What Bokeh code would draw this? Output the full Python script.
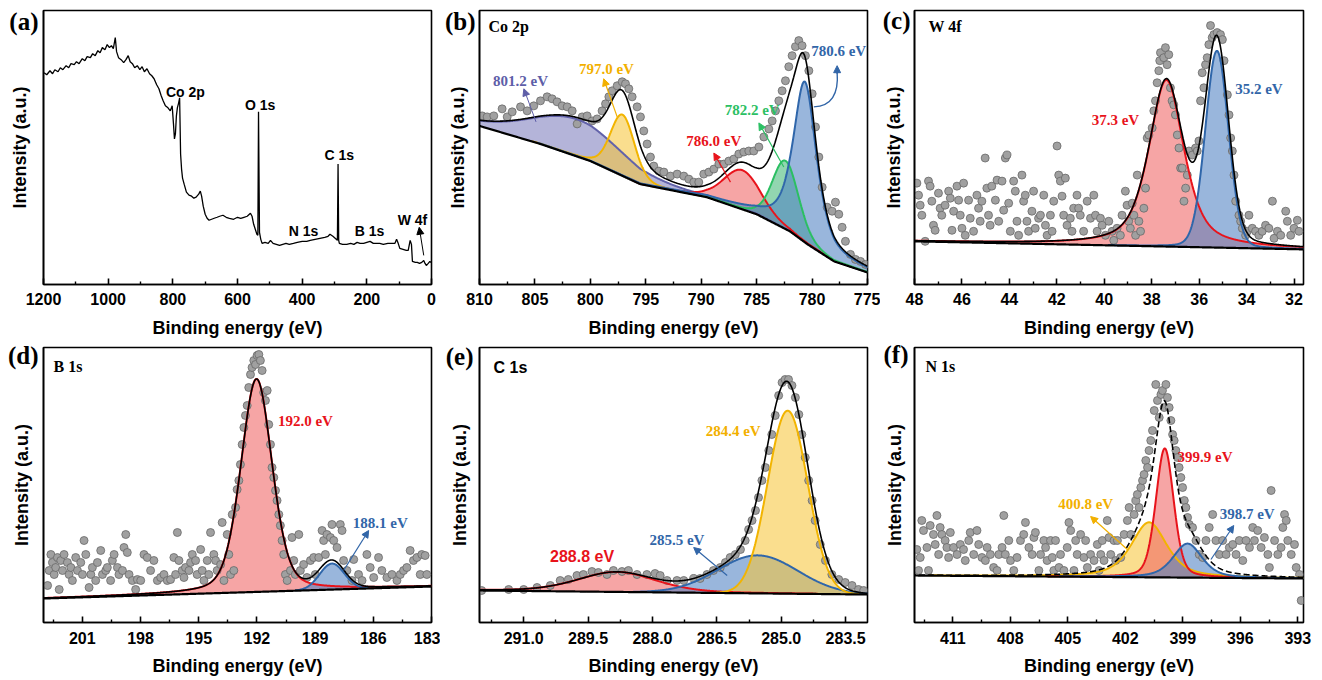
import numpy as np
from bokeh.plotting import figure
from bokeh.layouts import gridplot
from bokeh.models import (Range1d, FixedTicker, Label, Arrow, NormalHead, PrintfTickFormatter,
                          CustomJSTickFormatter)
from bokeh.embed import file_html
from bokeh.resources import INLINE

SANS = "Liberation Sans"
SERIF = "Liberation Serif"

# ------------------------------------------------------------------ data
# (a) survey spectrum: binding energy (eV) and intensity (a.u.)
a_be = [1198,1190,1180,1172,1165,1155,1148,1140,1130,1122,1115,1105,1098,1090,1080,1072,1065,1055,1048,1040,
        1032,1025,1018,1010,1003,996,990,984,978,974,968,960,952,945,938,932,925,918,910,902,
        895,888,880,872,865,858,850,843,836,830,823,815,808,802,798,795,792,789,786,782,
        779,776,773,770,765,758,750,742,735,728,720,715,711,706,700,694,688,680,672,663,
        655,645,635,625,612,600,590,580,570,560,555,550,545,540,537,535,532,528,524,515,
        505,498,490,480,470,460,450,440,427,415,400,386,375,360,345,330,320,314,305,298,
        291,289,287,285,275,262,250,240,230,221,210,200,190,180,170,160,149,135,122,113,
        108,103,98,88,78,72,66,62,59,50,44,37,30,24,20,16,10,5,1]
a_int = [211,209,213,210,214,212,216,214,218,216,220,219,222,220,225,223,227,226,230,228,
         233,231,236,234,239,236,238,235,246,232,226,224,221,224,228,222,220,216,218,214,
         217,212,215,210,208,205,199,195,188,183,178,176,173,178,160,145,150,168,176,181,
         186,130,115,106,100,92,89,88,86,87,90,93,88,78,70,66,64,65,66,67,
         68,69,67,66,65,67,66,67,68,71,68,60,55,50,49,172,52,45,41,42,
         41,44,41,40,39,40,41,40,41,42,43,43,44,45,46,47,48,50,48,46,
         44,120,44,41,40,40,41,40,42,41,41,42,43,41,41,41,40,41,41,41,
         45,41,36,35,34,34,44,40,23,22,22,21,22,24,21,19,21,23,22]
a_ticks = [1200, 1000, 800, 600, 400, 200, 0]
a_minor = [1100, 900, 700, 500, 300, 100]
a_names = ["Co 2p", "O 1s", "C 1s", "N 1s", "B 1s", "W 4f"]

# (b) Co 2p
b_points = [(809.76,168),(809.31,167),(808.71,168),(807.96,175),(807.50,167),(807.05,172),(806.30,177),(805.70,173),
            (805.10,178),(804.50,183),(803.90,187),(803.45,185),(803.00,182),(802.54,178),(802.09,177),(801.64,173),
            (801.19,160),(800.74,167),(800.29,168),(799.84,163),(799.39,165),(798.94,173),(798.63,180),(798.33,187),
            (798.03,193),(797.58,198),(797.13,202),(796.83,200),(796.53,195),(796.23,187),(795.78,177),(795.48,167),
            (795.18,153),(794.88,140),(794.58,127),(794.28,118),(793.82,113),(793.37,112),(792.77,108),(792.17,110),
            (791.57,108),(791.12,105),(790.67,102),(790.22,102),(789.77,110),(789.31,112),(788.86,115),(788.41,120),
            (787.96,120),(787.51,123),(787.06,125),(786.61,130),(786.16,132),(785.71,133),(785.26,133),(784.80,137),
            (784.35,147),(783.90,155),(783.60,163),(783.30,173),(783.00,183),(782.70,193),(782.40,203),(782.10,217),
            (781.80,228),(781.50,237),(781.20,243),(780.90,238),(780.60,228),(780.29,213),(779.99,190),(779.69,157),
            (779.39,127),(779.09,97),(778.64,77),(778.19,73),(777.89,82),(777.59,70),(777.29,57),(776.99,43),
            (776.54,30),(776.09,25),(775.63,23),(775.18,20)]
b_bg_be = [810, 804.5, 800, 795.5, 789.5, 785, 782, 780.4, 778, 775]
b_bg_int = [158, 140, 123, 100, 87, 70, 53, 40, 23, 12]
# peaks: centre (eV), height above background, FWHM (eV), Lorentz fraction
b_centers = [801.2, 797.1, 786.3, 782.4, 780.65]
b_heights = [37, 61, 39, 68, 160]
b_fwhm = [10.0, 2.6, 4.0, 2.8, 2.5]
b_eta = [0.2, 0.2, 0.2, 0.2, 0.7]
b_labels = ["801.2 eV", "797.0 eV", "786.0 eV", "782.2 eV", "780.6 eV"]
b_ticks = [810, 805, 800, 795, 790, 785, 780, 775]
b_minor = [807.5, 802.5, 797.5, 792.5, 787.5, 782.5, 777.5]

# (c) W 4f
c_points = [(47.90,101),(47.83,89),(47.76,79),(47.69,69),(47.55,43),(47.41,103),(47.34,98),(47.27,83),(47.20,59),
            (47.13,54),(46.99,91),(46.92,76),(46.85,69),(46.71,79),(46.56,93),(46.49,86),(46.42,54),(46.35,73),
            (46.21,98),(46.14,84),(46.07,69),(46.00,56),(45.93,101),(45.86,49),(45.72,84),(45.65,66),(45.51,53),
            (45.37,89),(45.30,76),(45.23,63),(45.16,83),(45.02,126),(44.95,96),(44.88,69),(44.81,59),(44.74,98),
            (44.59,84),(44.52,104),(44.45,63),(44.31,103),(44.24,74),(44.17,126),(44.10,129),(44.03,81),(43.96,53),
            (43.82,103),(43.75,93),(43.68,63),(43.61,49),(43.47,109),(43.40,83),(43.33,89),(43.26,63),(43.19,53),
            (43.05,73),(42.98,93),(42.91,56),(42.77,66),(42.69,69),(42.55,89),(42.48,59),(42.41,49),(42.27,69),
            (42.20,53),(42.13,83),(41.99,138),(41.92,109),(41.85,103),(41.78,88),(41.71,69),(41.64,106),(41.57,59),
            (41.43,66),(41.36,53),(41.29,76),(41.15,89),(41.08,76),(41.01,69),(40.87,53),(40.72,83),(40.58,66),
            (40.44,89),(40.37,69),(40.30,53),(40.16,66),(40.09,59),(39.95,49),(39.81,63),(39.67,53),(39.60,44),
            (39.46,56),(39.32,49),(39.25,69),(39.11,93),(39.04,79),(38.97,63),(38.90,56),(38.82,81),(38.75,69),
            (38.68,49),(38.61,109),(38.54,63),(38.47,53),(38.33,76),(38.26,96),(38.19,146),(38.12,149),(37.98,156),
            (37.91,173),(37.84,183),(37.77,201),(37.70,213),(37.66,223),(37.63,231),(37.49,226),(37.42,236),
            (37.35,219),(37.28,229),(37.21,196),(37.14,183),(37.07,179),(37.00,169),(36.92,149),(36.85,136),
            (36.78,116),(36.71,116),(36.64,83),(36.57,96),(36.50,109),(36.43,133),(36.29,129),(36.15,136),
            (36.08,133),(36.01,143),(35.94,183),(35.87,211),(35.80,196),(35.73,219),(35.66,226),(35.59,239),
            (35.52,258),(35.45,246),(35.38,249),(35.24,251),(35.10,249),(35.02,244),(34.95,223),(34.81,189),
            (34.74,169),(34.67,146),(34.60,133),(34.53,109),(34.46,83),(34.32,69),(34.25,63),(34.18,56),(34.04,49),
            (33.97,53),(33.90,69),(33.76,56),(33.62,53),(33.48,49),(33.34,53),(33.20,59),(33.06,56),(32.91,83),
            (32.84,46),(32.70,53),(32.56,49),(32.35,73),(32.28,63),(32.14,49),(32.00,56),(31.86,64),(31.79,53)]
c_bg_be = [48.0, 31.6]
c_bg_int = [43, 35]
c_centers = [37.38, 35.25]
c_heights = [166, 196]
c_fwhm = [1.75, 1.15]
c_eta = [0.6, 0.1]
c_labels = ["37.3 eV", "35.2 eV"]
c_ticks = [48, 46, 44, 42, 40, 38, 36, 34, 32]
c_minor = [47, 45, 43, 41, 39, 37, 35, 33]

# (d) B 1s
d_points = [(202.79,37),(202.71,52),(202.62,68),(202.54,60),(202.45,48),(202.37,55),(202.28,65),(202.19,33),
            (202.11,62),(202.02,52),(201.94,68),(201.77,60),(201.68,48),(201.59,55),(201.51,42),(201.34,65),
            (201.25,52),(201.08,60),(200.99,48),(200.91,82),(200.82,68),(200.65,35),(200.56,48),(200.48,55),
            (200.31,42),(200.22,60),(200.05,72),(199.96,48),(199.79,52),(199.71,55),(199.54,42),(199.45,62),
            (199.36,68),(199.19,55),(199.11,48),(198.93,52),(198.85,75),(198.76,88),(198.68,70),(198.59,48),
            (198.42,42),(198.25,33),(198.16,43),(197.99,42),(197.82,68),(197.65,65),(197.48,52),(197.31,62),
            (197.13,42),(196.96,45),(196.79,48),(196.62,42),(196.45,43),(196.28,65),(196.19,48),(196.10,90),
            (196.02,62),(195.85,52),(195.76,45),(195.68,55),(195.50,52),(195.42,60),(195.33,68),(195.16,62),
            (195.08,48),(194.90,73),(194.82,52),(194.73,42),(194.56,62),(194.48,48),(194.39,90),(194.22,68),
            (194.13,62),(194.05,52),(193.87,58),(193.79,100),(193.70,42),(193.53,88),(193.45,68),(193.36,48),
            (193.27,108),(193.19,52),(193.10,115),(193.02,133),(192.93,142),(192.85,158),(192.76,178),(192.67,195),
            (192.59,207),(192.50,217),(192.42,235),(192.33,248),(192.25,255),(192.16,262),(192.07,258),(191.99,267),
            (191.90,268),(191.82,262),(191.73,252),(191.65,230),(191.56,222),(191.47,232),(191.39,198),(191.30,178),
            (191.22,155),(191.13,145),(191.04,132),(190.96,122),(190.87,108),(190.79,97),(190.70,82),(190.62,68),
            (190.53,48),(190.44,42),(190.27,52),(190.19,85),(190.10,62),(190.02,48),(189.84,88),(189.76,52),
            (189.59,58),(189.42,45),(189.24,62),(189.07,65),(188.99,48),(188.81,65),(188.64,92),(188.56,82),
            (188.47,68),(188.39,88),(188.21,85),(188.13,98),(188.04,82),(187.87,75),(187.70,98),(187.61,92),
            (187.53,62),(187.36,52),(187.10,42),(187.01,63),(186.76,48),(186.58,42),(186.33,68),(186.16,55),
            (185.98,45),(185.73,65),(185.56,52),(185.30,45),(185.04,48),(184.78,42),(184.61,48),(184.44,52),
            (184.27,55),(184.10,72),(183.93,62),(183.75,65),(183.58,48),(183.50,68),(183.33,67),(183.24,48)]
d_bg_be = [203.0, 183.0]
d_bg_int = [24, 36]
d_centers = [192.02, 188.13]
d_heights = [213, 26]
d_fwhm = [1.9, 1.5]
d_eta = [0.3, 0.0]
d_labels = ["192.0 eV", "188.1 eV"]
d_ticks = [201, 198, 195, 192, 189, 186, 183]
d_minor = [202.5, 199.5, 196.5, 193.5, 190.5, 187.5, 184.5]

# (e) C 1s
e_points = [(291.98,32),(291.35,33),(291.00,33),(290.69,35),(290.38,37),(290.15,42),(289.96,43),(289.76,47),
            (289.61,48),(289.41,51),(289.26,50),(289.06,48),(288.91,52),(288.71,51),(288.56,52),(288.36,48),
            (288.13,48),(287.94,49),(287.82,47),(287.66,42),(287.43,42),(287.27,42),(287.04,44),(286.89,44),
            (286.73,48),(286.58,52),(286.42,55),(286.30,60),(286.19,65),(286.07,68),(285.95,73),(285.84,82),
            (285.76,93),(285.68,102),(285.60,112),(285.53,125),(285.45,142),(285.37,155),(285.29,172),(285.22,188),
            (285.14,207),(285.06,227),(284.98,240),(284.91,243),(284.83,243),(284.75,237),(284.67,225),(284.59,208),
            (284.52,188),(284.44,165),(284.36,142),(284.28,122),(284.21,102),(284.09,78),(283.97,62),(283.82,48),
            (283.66,43),(283.51,40),(283.35,37),(283.20,33),(283.08,32)]
e_bg_be = [292.0, 283.0]
e_bg_int = [32, 28]
e_centers = [288.83, 285.55, 284.85]
e_heights = [20, 38, 183]
e_fwhm = [2.15, 2.2, 1.1]
e_eta = [0.3, 0.0, 0.0]
e_labels = ["288.8 eV", "285.5 eV", "284.4 eV"]
e_ticks = [291.0, 289.5, 288.0, 286.5, 285.0, 283.5]
e_minor = [291.75, 290.25, 288.75, 287.25, 285.75, 284.25]

# (f) N 1s
f_points = [(412.88,73),(412.79,52),(412.70,65),(412.62,102),(412.53,92),(412.35,75),(412.27,52),(412.18,97),
            (412.01,88),(411.92,78),(411.83,107),(411.74,68),(411.66,95),(411.57,88),(411.40,82),(411.31,75),
            (411.22,65),(411.13,90),(410.96,75),(410.78,68),(410.61,78),(410.44,73),(410.35,62),(410.17,82),
            (410.09,90),(409.91,68),(409.74,92),(409.65,78),(409.48,65),(409.30,62),(409.21,75),(409.04,68),
            (408.87,55),(408.69,52),(408.60,68),(408.43,75),(408.34,107),(408.26,68),(408.08,82),(407.99,62),
            (407.82,52),(407.65,65),(407.47,82),(407.30,88),(407.21,100),(407.03,75),(406.86,68),(406.77,85),
            (406.69,90),(406.51,52),(406.42,68),(406.25,82),(406.16,75),(406.08,62),(405.90,82),(405.81,65),
            (405.73,52),(405.64,82),(405.46,55),(405.38,68),(405.20,52),(405.03,75),(404.94,100),(404.85,92),
            (404.68,52),(404.59,82),(404.51,68),(404.33,88),(404.16,65),(404.07,82),(403.98,55),(403.81,68),
            (403.63,62),(403.46,78),(403.37,52),(403.28,68),(403.20,82),(403.11,62),(402.94,102),(402.85,85),
            (402.76,68),(402.59,82),(402.50,62),(402.41,82),(402.24,65),(402.06,88),(401.89,102),(401.80,115),
            (401.71,88),(401.54,108),(401.45,122),(401.37,128),(401.28,115),(401.19,135),(401.10,142),(401.02,148),
            (400.93,162),(400.84,155),(400.76,172),(400.67,182),(400.58,192),(400.49,212),(400.41,238),(400.32,222),
            (400.23,205),(400.14,228),(400.06,232),(399.97,215),(399.88,238),(399.80,225),(399.71,215),(399.62,202),
            (399.53,188),(399.45,182),(399.36,172),(399.27,165),(399.19,155),(399.10,145),(399.01,135),(398.92,122),
            (398.84,115),(398.75,105),(398.66,98),(398.49,95),(398.31,82),(398.14,68),(397.96,65),(397.79,82),
            (397.62,95),(397.44,108),(397.27,82),(397.09,68),(396.92,82),(396.74,68),(396.57,75),(396.39,78),
            (396.22,68),(396.05,82),(395.87,62),(395.70,82),(395.52,75),(395.35,95),(395.26,82),(395.09,92),
            (394.91,75),(394.74,85),(394.56,68),(394.48,55),(394.39,132),(394.21,82),(394.04,68),(393.87,75),
            (393.78,95),(393.69,108),(393.60,102),(393.52,82),(393.34,68),(393.17,78),(393.08,55),(392.91,48),
            (392.82,22)]
f_bg_be = [413.0, 392.7]
f_bg_int = [47, 44]
f_centers = [400.76, 399.94, 398.75]
f_heights = [55, 129, 34]
f_fwhm = [2.2, 1.1, 1.8]
f_eta = [0.6, 0.3, 0.5]
f_labels = ["400.8 eV", "399.9 eV", "398.7 eV"]
f_ticks = [411, 408, 405, 402, 399, 396, 393]
f_minor = [412.5, 409.5, 406.5, 403.5, 400.5, 397.5, 394.5]

# ------------------------------------------------------------------ style
COLORS = {
    "purple": ("#6262aa", "#7d7dbd", "#5e5ea8"),
    "yellow": ("#f2b400", "#f7c63c", "#f2b000"),
    "red":    ("#e8131b", "#f06464", "#e8131b"),
    "green":  ("#2bbf62", "#44b877", "#2cc064"),
    "blue":   ("#2f66aa", "#4f82c2", "#3266a8"),
}
PT_FILL = "#a0a0a0"
PT_LINE = "#686868"


def pv(x, c, h, w, eta):
    g = np.exp(-4.0 * np.log(2.0) * ((x - c) / w) ** 2)
    l = 1.0 / (1.0 + 4.0 * ((x - c) / w) ** 2)
    return h * (eta * l + (1.0 - eta) * g)


def make_fig(w, h, bl, br, bt, bb, xr, yr, ticks, minors, lab_stand, title_stand,
             tag, tag_y, tag_stand, ylab_stand, fmt=None):
    p = figure(width=w, height=h, min_border_left=bl, min_border_right=br,
               min_border_top=bt, min_border_bottom=bb,
               x_range=Range1d(*xr), y_range=Range1d(*yr),
               toolbar_location=None, tools="", output_backend="svg")
    p.grid.visible = False
    p.outline_line_color = "black"
    p.outline_line_width = 1.6
    p.background_fill_color = "white"
    p.border_fill_color = "white"
    xa = p.xaxis[0]
    xa.ticker = FixedTicker(ticks=ticks, minor_ticks=minors)
    if fmt:
        xa.formatter = PrintfTickFormatter(format=fmt)
    xa.axis_line_width = 1.6
    xa.major_tick_in = 6
    xa.major_tick_out = 0
    xa.minor_tick_in = 3
    xa.minor_tick_out = 0
    xa.major_tick_line_width = 1.6
    xa.minor_tick_line_width = 1.4
    xa.major_label_text_font = SANS
    xa.major_label_text_font_size = "16px"
    xa.major_label_text_font_style = "bold"
    xa.major_label_text_color = "black"
    xa.major_label_standoff = lab_stand
    xa.axis_label = "Binding energy (eV)"
    xa.axis_label_text_font = SANS
    xa.axis_label_text_font_size = "18px"
    xa.axis_label_text_font_style = "bold"
    xa.axis_label_text_color = "black"
    xa.axis_label_standoff = title_stand
    # left axis: no ticks; its single (invisible-tick) label carries the panel tag
    ya = p.yaxis[0]
    ya.ticker = FixedTicker(ticks=[tag_y])
    ya.formatter = CustomJSTickFormatter(code="return '%s';" % tag)
    ya.axis_line_width = 1.6
    ya.major_tick_out = 0
    ya.major_tick_in = 0
    ya.major_tick_line_color = None
    ya.major_label_standoff = tag_stand
    ya.major_label_text_font = SERIF
    ya.major_label_text_font_size = "25px"
    ya.major_label_text_font_style = "bold"
    ya.major_label_text_color = "black"
    ya.axis_label = "Intensity (a.u.)"
    ya.axis_label_text_font = SANS
    ya.axis_label_text_font_size = "18px"
    ya.axis_label_text_font_style = "bold"
    ya.axis_label_text_color = "black"
    ya.axis_label_standoff = ylab_stand
    return p


def inner_title(p, text, dx, dy, font, size, color="black"):
    p.add_layout(Label(x=p.x_range.start, y=p.y_range.end, x_offset=dx, y_offset=dy, text=text,
                       text_font=font, text_font_size=size, text_font_style="bold",
                       text_color=color, text_align="left", text_baseline="middle"))


def note(p, x, y, text, color, font=SERIF, size="15px"):
    p.add_layout(Label(x=x, y=y, text=text, text_font=font, text_font_size=size,
                       text_font_style="bold", text_color=color,
                       text_align="center", text_baseline="middle"))


def arrow(p, x0, y0, x1, y1, color, width=1.2):
    p.add_layout(Arrow(end=NormalHead(size=7, fill_color=color, line_color=color, line_width=1),
                       x_start=x0, y_start=y0, x_end=x1, y_end=y1,
                       line_color=color, line_width=width))


def fitted_panel(p, points, bg_be, bg_int, centers, heights, fwhm, eta, cols, env_dash="solid"):
    lo = min(p.x_range.start, p.x_range.end)
    hi = max(p.x_range.start, p.x_range.end)
    xs = np.linspace(lo, hi, 900)
    order = np.argsort(bg_be)
    bg = np.interp(xs, np.array(bg_be)[order], np.array(bg_int)[order])
    comps = [pv(xs, c, h, w, e) for c, h, w, e in zip(centers, heights, fwhm, eta)]
    for comp, col in zip(comps, cols):
        p.varea(x=xs, y1=bg, y2=bg + comp, fill_color=COLORS[col][1], fill_alpha=0.58)
    px = [q[0] for q in points]
    py = [q[1] for q in points]
    p.scatter(px, py, size=8, marker="circle", fill_color=PT_FILL, line_color=PT_LINE, line_width=0.8)
    for comp, col in zip(comps, cols):
        yy = np.where(comp > 0.3, bg + comp, np.nan)
        p.line(xs, yy, line_color=COLORS[col][0], line_width=2)
    env = bg + np.sum(comps, axis=0)
    p.line(xs, env, line_color="black", line_width=1.6, line_dash=env_dash)
    p.line(xs, bg, line_color="black", line_width=2.2)


# layout (Bokeh's page template has no body margin): columns 440 / 440 / 441, rows 340 / 339
R1 = dict(h=340, bt=10, bb=56, lab_stand=8, title_stand=10)
R2 = dict(h=339, bt=7, bb=57, lab_stand=9, title_stand=9)
YR1 = (0, 273)
YR2 = (0, 275)

# ---------------- (a)
pa = make_fig(440, R1["h"], 43, 9, R1["bt"], R1["bb"], (1200, 0), YR1, a_ticks, a_minor,
              R1["lab_stand"], R1["title_stand"], "(a)", 262, 5, -24)
pa.line(a_be, a_int, line_color="black", line_width=1.3)
a_pos = [(761, 192), (530, 179), (285, 129), (396, 53), (192, 53), (59, 64)]
for name, (x, y) in zip(a_names, a_pos):
    note(pa, x, y, name, "black", font=SANS, size="14px")
arrow(pa, 24, 29, 38, 57, "black", 1.0)

# ---------------- (b)
pb = make_fig(440, R1["h"], 39, 13, R1["bt"], R1["bb"], (810, 775), YR1, b_ticks, b_minor,
              R1["lab_stand"], R1["title_stand"], "(b)", 262, 4, -26)
b_cols = ["purple", "yellow", "red", "green", "blue"]
fitted_panel(pb, b_points, b_bg_be, b_bg_int, b_centers, b_heights, b_fwhm, b_eta, b_cols)
b_pos = [(806.3, 203), (798.55, 215), (788.86, 143), (785.4, 174), (777.6, 233)]
for t, (x, y), col in zip(b_labels, b_pos, b_cols):
    note(pb, x, y, t, COLORS[col][2])
arrow(pb, 804.9, 162, 806.0, 195, COLORS["purple"][2], 1.0)
arrow(pb, 797.58, 167, 798.8, 205, COLORS["yellow"][2])
arrow(pb, 787.36, 102, 788.86, 131, COLORS["red"][2])
arrow(pb, 782.55, 117, 784.8, 161, COLORS["green"][2])
pb.quadratic(x0=[779.84], y0=[177], x1=[777.74], y1=[212], cx=[777.5], cy=[178],
             line_color=COLORS["blue"][2], line_width=1.4)
arrow(pb, 777.74, 210, 777.74, 218, COLORS["blue"][2], 1.4)
inner_title(pb, "Co 2p", 9, -16, SERIF, "16px")

# ---------------- (c)
pc = make_fig(441, R1["h"], 34, 18, R1["bt"], R1["bb"], (48, 31.6), YR1, c_ticks, c_minor,
              R1["lab_stand"], R1["title_stand"], "(c)", 263, 4, -24)
c_cols = ["red", "blue"]
fitted_panel(pc, c_points, c_bg_be, c_bg_int, c_centers, c_heights, c_fwhm, c_eta, c_cols)
note(pc, 39.53, 164, c_labels[0], COLORS["red"][2])
note(pc, 33.48, 195, c_labels[1], COLORS["blue"][2])
inner_title(pc, "W 4f", 14, -16, SERIF, "16px")

# ---------------- (d)
pd_ = make_fig(440, R2["h"], 43, 9, R2["bt"], R2["bb"], (203, 183), YR2, d_ticks, d_minor,
               R2["lab_stand"], R2["title_stand"], "(d)", 270, 5, -27)
d_cols = ["red", "blue"]
fitted_panel(pd_, d_points, d_bg_be, d_bg_int, d_centers, d_heights, d_fwhm, d_eta, d_cols)
note(pd_, 189.5, 202, d_labels[0], COLORS["red"][2])
note(pd_, 185.64, 100, d_labels[1], COLORS["blue"][2])
arrow(pd_, 187.53, 52, 186.24, 92, COLORS["blue"][2])
inner_title(pd_, "B 1s", 10, -19, SERIF, "16px")

# ---------------- (e)
pe = make_fig(440, R2["h"], 39, 13, R2["bt"], R2["bb"], (292.03, 282.99), YR2, e_ticks, e_minor,
              R2["lab_stand"], R2["title_stand"], "(e)", 266, 6, -27, fmt="%.1f")
e_cols = ["red", "blue", "yellow"]
fitted_panel(pe, e_points, e_bg_be, e_bg_int, e_centers, e_heights, e_fwhm, e_eta, e_cols)
note(pe, 289.64, 66, e_labels[0], COLORS["red"][2], font=SANS, size="16px")
note(pe, 287.43, 83, e_labels[1], COLORS["blue"][2])
note(pe, 286.12, 192, e_labels[2], COLORS["yellow"][2])
arrow(pe, 286.26, 47, 287.04, 75, COLORS["blue"][2])
inner_title(pe, "C 1s", 14, -20, SANS, "16px")

# ---------------- (f)
pf = make_fig(441, R2["h"], 34, 18, R2["bt"], R2["bb"], (413, 392.7), YR2, f_ticks, f_minor,
              R2["lab_stand"], R2["title_stand"], "(f)", 268, 6, -24)
f_cols = ["yellow", "red", "blue"]
fitted_panel(pf, f_points, f_bg_be, f_bg_int, f_centers, f_heights, f_fwhm, f_eta, f_cols, env_dash="6 3")
note(pf, 404.07, 119, f_labels[0], COLORS["yellow"][2])
note(pf, 397.84, 166, f_labels[1], COLORS["red"][2])
note(pf, 395.64, 109, f_labels[2], COLORS["blue"][2])
arrow(pf, 401.89, 73, 403.81, 106, COLORS["yellow"][2])
arrow(pf, 397.53, 63, 396.34, 97, COLORS["blue"][2])
inner_title(pf, "N 1s", 11, -19, SERIF, "16px")

grid = gridplot([[pa, pb, pc], [pd_, pe, pf]], toolbar_location=None)

with open("out.html", "w") as fh:
    fh.write(file_html(grid, INLINE))
